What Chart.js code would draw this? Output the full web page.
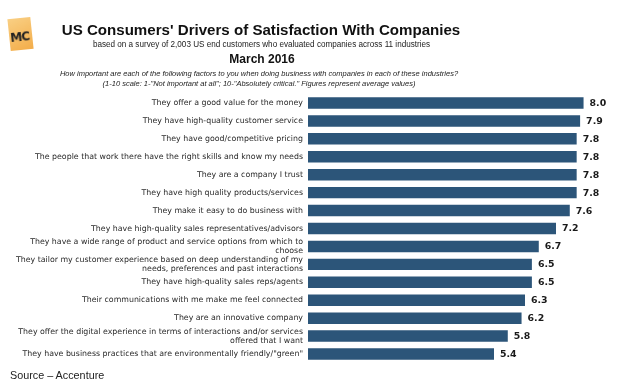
<!DOCTYPE html>
<html><head><meta charset="utf-8">
<script src="https://cdn.jsdelivr.net/npm/chart.js@4.4.1/dist/chart.umd.min.js"></script>
<style>
html,body{margin:0;padding:0;background:#fff;width:627px;height:389px;overflow:hidden;position:relative;font-family:"Liberation Sans",Arial,sans-serif;}
.t{position:absolute;white-space:nowrap;color:#111;}
#wrap{position:absolute;left:0;top:0;width:627px;height:389px;}
#logo{position:absolute;left:9px;top:18px;width:23px;height:32px;background:linear-gradient(160deg,#f9cf83,#f3ad4a);transform:rotate(-6deg);}
#logo span{position:absolute;left:1px;top:12px;font:bold 12px "DejaVu Sans",sans-serif;color:#222;letter-spacing:-1px;}
</style></head><body>
<div id="wrap"><canvas id="c" width="627" height="389"></canvas></div>
<div id="logo"><span>MC</span></div>
<div class="t" id="title" style="left:0;width:522px;text-align:center;top:21px;font:bold 15.1px 'Liberation Sans',Arial,sans-serif;">US Consumers' Drivers of Satisfaction With Companies</div>
<div class="t" style="left:0;width:523px;text-align:center;top:40px;font:8.15px 'Liberation Sans',Arial,sans-serif;color:#222;">based on a survey of 2,003 US end customers who evaluated companies across 11 industries</div>
<div class="t" style="left:0;width:524px;text-align:center;top:52px;font:bold 12px 'Liberation Sans',Arial,sans-serif;color:#111;">March 2016</div>
<div class="t" style="left:0;width:518px;text-align:center;top:69px;font:italic 7.5px 'Liberation Sans',Arial,sans-serif;color:#222;line-height:10px;">How important are each of the following factors to you when doing business with companies in each of these industries?<br>(1-10 scale: 1-"Not important at all"; 10-"Absolutely critical." Figures represent average values)</div>
<div class="t" style="left:10px;top:369px;font:10.8px 'Liberation Sans',Arial,sans-serif;color:#222;">Source – Accenture</div>
<script>
const categories = [
  "They offer a good value for the money",
  "They have high-quality customer service",
  "They have good/competitive pricing",
  "The people that work there have the right skills and know my needs",
  "They are a company I trust",
  "They have high quality products/services",
  "They make it easy to do business with",
  "They have high-quality sales representatives/advisors",
  ["They have a wide range of product and service options from which to", "choose"],
  ["They tailor my customer experience based on deep understanding of my", "needs, preferences and past interactions"],
  "They have high-quality sales reps/agents",
  "Their communications with me make me feel connected",
  "They are an innovative company",
  ["They offer the digital experience in terms of interactions and/or services", "offered that I want"],
  "They have business practices that are environmentally friendly/\"green\""
];
const values = [8.0, 7.9, 7.8, 7.8, 7.8, 7.8, 7.6, 7.2, 6.7, 6.5, 6.5, 6.3, 6.2, 5.8, 5.4];
const valueLabels = ["8.0","7.9","7.8","7.8","7.8","7.8","7.6","7.2","6.7","6.5","6.5","6.3","6.2","5.8","5.4"];

const barLabels = {
  id: 'barLabels',
  afterDatasetsDraw(chart) {
    const ctx = chart.ctx;
    const meta = chart.getDatasetMeta(0);
    ctx.save();
    ctx.font = 'bold 9.4px "DejaVu Sans", sans-serif';
    ctx.fillStyle = '#1a1a1a';
    ctx.textAlign = 'left';
    ctx.textBaseline = 'middle';
    meta.data.forEach((bar, i) => {
      ctx.fillText(valueLabels[i], bar.x + 6, bar.y + 0.5);
    });
    ctx.restore();
  }
};

new Chart(document.getElementById('c'), {
  type: 'bar',
  data: {
    labels: categories,
    datasets: [{
      data: values,
      backgroundColor: '#2c5579',
      borderWidth: 0,
      barPercentage: 0.64,
      categoryPercentage: 1.0
    }]
  },
  options: {
    indexAxis: 'y',
    responsive: false,
    animation: false,
    devicePixelRatio: 1,
    layout: { padding: { left: 0, right: 9, top: 94, bottom: 26 } },
    plugins: { legend: { display: false }, tooltip: { enabled: false }, title: { display: false } },
    scales: {
      x: { min: 0, max: 9, display: false, grid: { display: false } },
      y: {
        grid: { display: false, drawTicks: false },
        border: { display: false },
        ticks: {
          color: '#2a2a2a',
          padding: 5,
          autoSkip: false,
          font: { family: '"DejaVu Sans", sans-serif', size: 7.85, lineHeight: 1.15 }
        },
        afterFit(scale) { scale.width = 308; }
      }
    }
  },
  plugins: [barLabels]
});
</script>
</body></html>
